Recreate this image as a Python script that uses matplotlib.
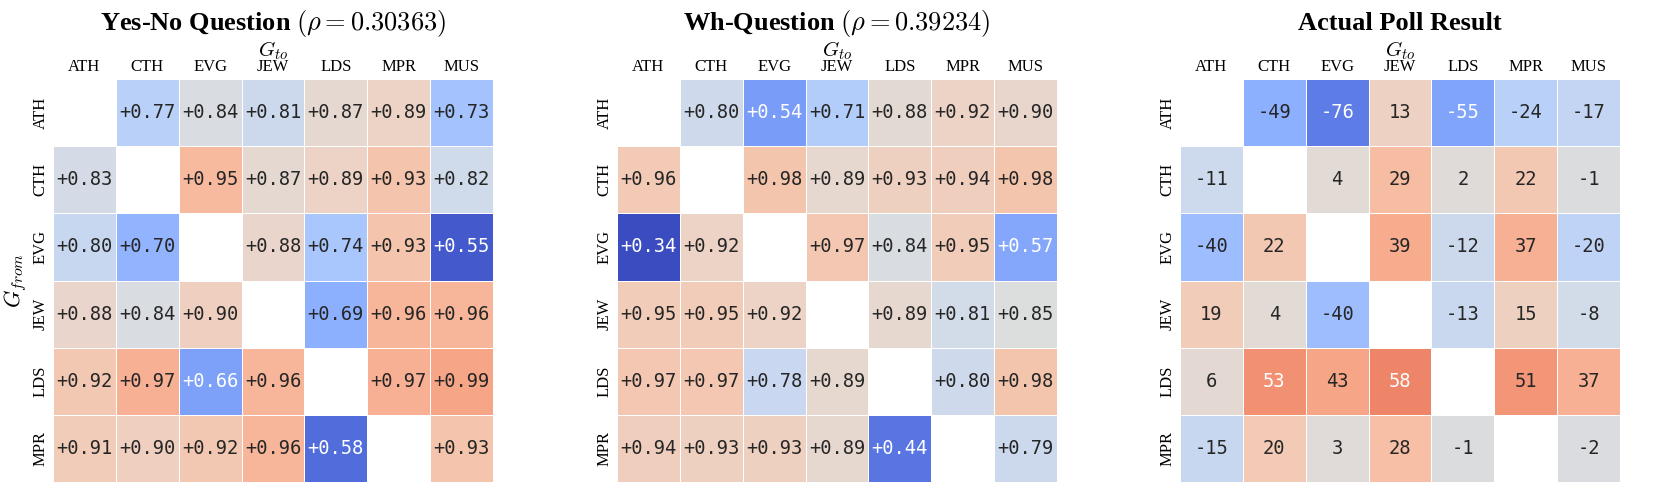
import numpy as np
import matplotlib
matplotlib.use("Agg")
import matplotlib.pyplot as plt
import seaborn as sns

plt.rcParams['mathtext.fontset'] = 'cm'

rows = ['ATH', 'CTH', 'EVG', 'JEW', 'LDS', 'MPR']
cols = ['ATH', 'CTH', 'EVG', 'JEW', 'LDS', 'MPR', 'MUS']
nan = np.nan

# Yes-No question agreement
yes_no = [
    [nan, 0.77, 0.84, 0.81, 0.87, 0.89, 0.73],
    [0.83, nan, 0.95, 0.87, 0.89, 0.93, 0.82],
    [0.80, 0.70, nan, 0.88, 0.74, 0.93, 0.55],
    [0.88, 0.84, 0.90, nan, 0.69, 0.96, 0.96],
    [0.92, 0.97, 0.66, 0.96, nan, 0.97, 0.99],
    [0.91, 0.90, 0.92, 0.96, 0.58, nan, 0.93],
]

# Wh-question agreement
wh = [
    [nan, 0.80, 0.54, 0.71, 0.88, 0.92, 0.90],
    [0.96, nan, 0.98, 0.89, 0.93, 0.94, 0.98],
    [0.34, 0.92, nan, 0.97, 0.84, 0.95, 0.57],
    [0.95, 0.95, 0.92, nan, 0.89, 0.81, 0.85],
    [0.97, 0.97, 0.78, 0.89, nan, 0.80, 0.98],
    [0.94, 0.93, 0.93, 0.89, 0.44, nan, 0.79],
]

# actual poll
poll = [
    [nan, -49, -76, 13, -55, -24, -17],
    [-11, nan, 4, 29, 2, 22, -1],
    [-40, 22, nan, 39, -12, 37, -20],
    [19, 4, -40, nan, -13, 15, -8],
    [6, 53, 43, 58, nan, 51, 37],
    [-15, 20, 3, 28, -1, nan, -2],
]

titles = [r'Yes-No Question $(\rho=0.30363)$',
          r'Wh-Question $(\rho=0.39234)$',
          'Actual Poll Result']
panels = [
    (yes_no, '+.2f', 0.53, 1.17),
    (wh, '+.2f', 0.34, 1.366),
    (poll, '.0f', -97.5, 97.5),
]

W, H = 1661, 488
fig = plt.figure(figsize=(W / 100, H / 100), dpi=100)
lefts = [53, 617, 1180]

for i, (data, fmt, vmin, vmax) in enumerate(panels):
    ax = fig.add_axes([lefts[i] / W, 1 - 482 / H, 440 / W, 403 / H])
    arr = np.array(data, dtype=float)
    sns.heatmap(arr, ax=ax, cmap='coolwarm', vmin=vmin, vmax=vmax,
                annot=True, fmt=fmt, cbar=False, mask=np.isnan(arr),
                linewidths=0.5, linecolor='white',
                annot_kws={'family': 'DejaVu Sans Mono', 'fontsize': 13.5})
    ax.xaxis.tick_top()
    ax.xaxis.set_label_position('top')
    ax.set_xticklabels(cols, family='Liberation Serif', fontsize=12)
    ax.set_yticklabels(rows, family='Liberation Serif', fontsize=12, rotation=90, va='center')
    ax.tick_params(length=0, pad=3)
    ax.set_xlabel(r'$G_{to}$', fontsize=15, labelpad=2)
    if i == 0:
        ax.set_ylabel(r'$G_{from}$', fontsize=16, labelpad=3)
    ax.text(0.5, 1 + 49 / 403, titles[i], transform=ax.transAxes, ha='center', va='baseline',
            family='Liberation Serif', fontweight='bold', fontsize=19)

fig.savefig('out.png', dpi=100)
